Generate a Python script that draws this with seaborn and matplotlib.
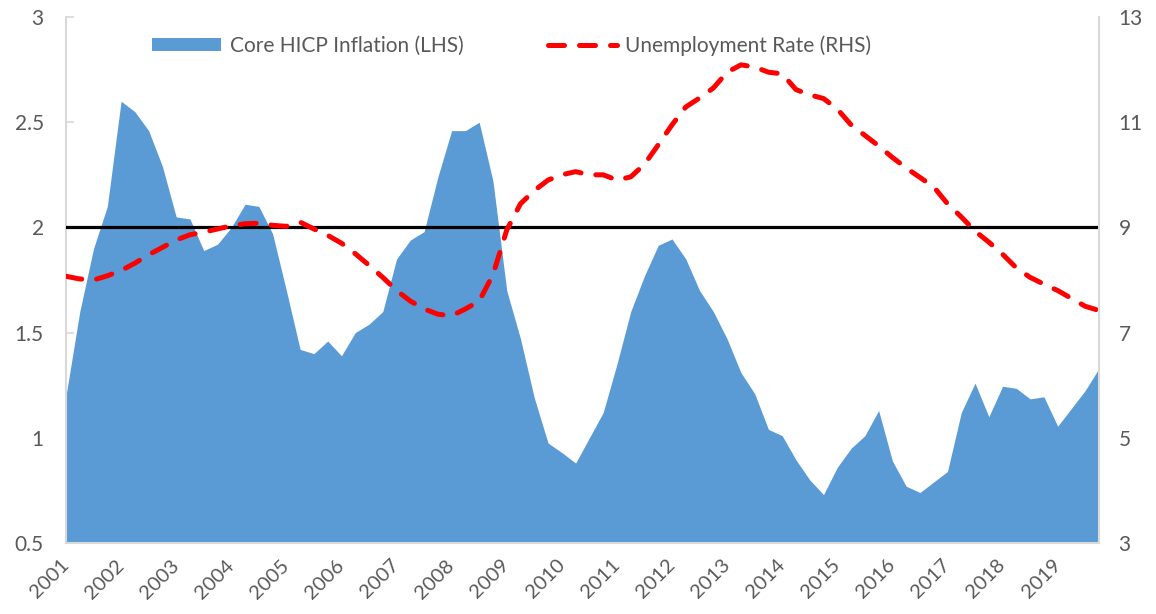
import matplotlib
matplotlib.use("Agg")
import matplotlib.pyplot as plt
import seaborn as sns
import pandas as pd
import numpy as np
from matplotlib.patches import Patch
from matplotlib.lines import Line2D
from matplotlib.ticker import FuncFormatter

# ---- data (quarterly, 2001Q1 .. 2019Q4) ----
year_labels = ["2001", "2002", "2003", "2004", "2005", "2006", "2007", "2008", "2009", "2010",
               "2011", "2012", "2013", "2014", "2015", "2016", "2017", "2018", "2019"]

core_hicp = [1.20, 1.60, 1.90, 2.10, 2.60, 2.55, 2.46, 2.29, 2.05, 2.04, 1.89, 1.92,
             2.00, 2.11, 2.10, 1.97, 1.70, 1.42, 1.40, 1.46, 1.39, 1.50, 1.54, 1.60,
             1.85, 1.94, 1.98, 2.24, 2.46, 2.46, 2.50, 2.22, 1.70, 1.47, 1.19, 0.975,
             0.93, 0.88, 1.00, 1.12, 1.35, 1.60, 1.77, 1.915, 1.945, 1.85, 1.70, 1.60,
             1.47, 1.31, 1.21, 1.04, 1.01, 0.895, 0.80, 0.73, 0.86, 0.95, 1.01, 1.13,
             0.89, 0.77, 0.74, 0.79, 0.84, 1.12, 1.26, 1.10, 1.245, 1.235, 1.185, 1.195,
             1.055, 1.14, 1.225, 1.33]

unemployment = [8.07, 8.02, 8.00, 8.08, 8.18, 8.32, 8.48, 8.62, 8.76, 8.86, 8.91, 8.97,
                9.03, 9.07, 9.08, 9.04, 9.02, 9.10, 8.97, 8.85, 8.70, 8.50, 8.28, 8.05,
                7.80, 7.60, 7.45, 7.35, 7.32, 7.45, 7.60, 8.10, 8.95, 9.45, 9.70, 9.90,
                10.00, 10.06, 10.00, 10.00, 9.90, 9.96, 10.20, 10.57, 10.95, 11.29, 11.46, 11.65,
                11.95, 12.09, 12.05, 11.95, 11.92, 11.62, 11.52, 11.45, 11.25, 10.95, 10.75, 10.55,
                10.33, 10.13, 9.95, 9.77, 9.45, 9.20, 8.93, 8.72, 8.49, 8.23, 8.05, 7.92,
                7.80, 7.65, 7.50, 7.42]

target = 2.0

start_year = 2001
t = [start_year + q / 4 for q in range(len(core_hicp))]
df = pd.DataFrame({"t": t, "core": core_hicp, "unemp": unemployment})

# ---- style ----
sns.set_theme(style="white")
plt.rcParams["font.family"] = ["Lato", "DejaVu Sans"]
txt = "#595959"
spine_c = "#d9d9d9"
blue = "#5B9BD5"

fig = plt.figure(figsize=(11.56, 6.14), dpi=100)
ax = fig.add_axes([66 / 1156, 1 - 543 / 614, (1099 - 66) / 1156, (543 - 17) / 614])

# area (LHS)
sns.lineplot(data=df, x="t", y="core", ax=ax, color=blue, linewidth=0, legend=False)
ax.fill_between(df["t"], df["core"], 0.5, color=blue, linewidth=0, zorder=1)
ax.axhline(target, color="black", linewidth=2.3, zorder=3)

ax.set_xlim(t[0], t[-1])
ax.set_ylim(0.5, 3)
ax.set_yticks([0.5, 1, 1.5, 2, 2.5, 3])
ax.yaxis.set_major_formatter(FuncFormatter(lambda v, p: f"{v:g}"))
ax.set_xticks([start_year + k for k in range(len(year_labels))])
ax.set_xticklabels(year_labels, rotation=45, ha="right", va="center", rotation_mode="anchor")
ax.set_xlabel("")
ax.set_ylabel("")
ax.tick_params(axis="x", direction="in", length=7, width=1.2, color=spine_c,
               labelsize=14.5, labelcolor=txt, pad=14)
ax.tick_params(axis="y", direction="in", length=6, width=1.2, color=spine_c,
               labelsize=15, labelcolor=txt, pad=16)
for s in ["left", "bottom"]:
    ax.spines[s].set_color(spine_c)
    ax.spines[s].set_linewidth(1.5)
ax.spines["top"].set_visible(False)
ax.spines["right"].set_visible(False)

# line (RHS)
ax2 = ax.twinx()
sns.lineplot(data=df, x="t", y="unemp", ax=ax2, color="#FF0000", linewidth=3.6, legend=False)
ln = ax2.lines[0]
ln.set_dashes((3.2, 3))
ln.set_dash_capstyle("round")
ln.set_solid_capstyle("round")
ax2.set_ylim(3, 13)
ax2.set_yticks([3, 5, 7, 9, 11, 13])
ax2.set_ylabel("")
ax2.set_xlabel("")
ax2.tick_params(axis="y", direction="in", length=0, labelsize=15, labelcolor=txt, pad=14)
ax2.spines["right"].set_color(spine_c)
ax2.spines["right"].set_linewidth(1.5)
for s in ["top", "left", "bottom"]:
    ax2.spines[s].set_visible(False)
ax2.set_xlim(t[0], t[-1])

# legend
h1 = Patch(facecolor=blue, edgecolor="none")
h2 = Line2D([], [], color="#FF0000", linewidth=3.6, dashes=(3.2, 3),
            dash_capstyle="round")
leg = ax2.legend([h1, h2], ["Core HICP Inflation (LHS)", "Unemployment Rate (RHS)"],
                 ncol=2, loc="upper left", bbox_to_anchor=(0.0674, 0.997), frameon=False,
                 fontsize=15, handlelength=3.3, handleheight=0.65, handletextpad=0.42,
                 columnspacing=4.05, borderpad=0.3)
for tx in leg.get_texts():
    tx.set_color(txt)

fig.savefig("out.png", dpi=100)
